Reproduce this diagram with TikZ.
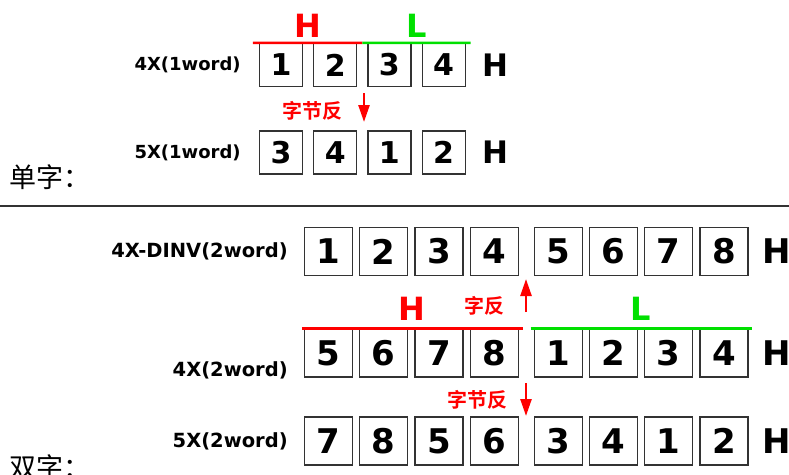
\documentclass[tikz,border=0pt]{standalone}
\usepackage{fontspec}
\setmainfont{DejaVu Sans}
\newfontfamily\cjk{Noto Sans CJK SC}[BoldFont={Noto Sans CJK SC Bold}]
\usepackage{xcolor}
\definecolor{hired}{HTML}{FF0000}
\definecolor{logreen}{HTML}{00E000}
\definecolor{boxgray}{HTML}{333333}
\usepackage{tikz}
\usetikzlibrary{arrows.meta, positioning, calc}
\tikzstyle{bytebox} = [
  rectangle, draw=boxgray, line width=1.2pt,
  minimum width=43pt, minimum height=43pt, inner sep=0pt,
  font=\fontsize{30}{30}\selectfont\bfseries
]
\tikzstyle{wordbox} = [
  bytebox, minimum width=48pt, minimum height=48pt,
  font=\fontsize{34}{34}\selectfont\bfseries
]
\tikzstyle{rowlabel} = [inner sep=0pt, font=\fontsize{18}{18}\selectfont\bfseries]
\tikzstyle{widelabel} = [inner sep=0pt, font=\fontsize{19.5}{19.5}\selectfont\bfseries]
\tikzstyle{endian} = [inner sep=0pt, font=\fontsize{31}{31}\selectfont\bfseries]
\tikzstyle{halfmark} = [inner sep=0pt, font=\fontsize{32}{32}\selectfont\bfseries]
\tikzstyle{hiline} = [line width=2.5pt, color=hired]
\tikzstyle{loline} = [line width=2.5pt, color=logreen]
\tikzstyle{revarrow} = [
  -{Triangle[width=11pt,length=17pt]}, line width=2.5pt, color=hired
]
\tikzstyle{revlabel} = [
  inner sep=0pt, text=hired, font=\fontsize{20}{20}\selectfont\cjk\bfseries
]
\tikzstyle{section} = [inner sep=0pt, font=\fontsize{27}{27}\selectfont\cjk]

\begin{document}
\begin{tikzpicture}[x=1pt, y=-1pt]
  \useasboundingbox (0,0) rectangle (789,474);

  % ── 4X(1word) ─────────────────────────────────────────
  \node[bytebox] (sa1) at (281,65) {1};
  \node[bytebox, right=10pt of sa1] (sa2) {2};
  \node[bytebox, right=10pt of sa2] (sa3) {3};
  \node[bytebox, right=10pt of sa3] (sa4) {4};
  \node[rowlabel, left=18pt of sa1] (salbl) {4X(1word)};
  \node[endian, right=17pt of sa4] (sah) {H};

  % ── 5X(1word) ─────────────────────────────────────────
  \node[bytebox] (sb1) at (281,152.5) {3};
  \node[bytebox, right=10pt of sb1] (sb2) {4};
  \node[bytebox, right=10pt of sb2] (sb3) {1};
  \node[bytebox, right=10pt of sb3] (sb4) {2};
  \node[rowlabel, left=18pt of sb1] (sblbl) {5X(1word)};
  \node[endian, right=17pt of sb4] (sbh) {H};

  \node[section, anchor=west] (single) at (9,177) {单字：};

  % ── H / L halves ──────────────────────────────────────
  \coordinate (samid) at ($(sa2.north east)!0.5!(sa3.north west)$);
  \draw[hiline] ([xshift=-6pt]sa1.north west)
    -- node[halfmark, above=4pt, text=hired]{H} (samid);
  \draw[loline] (samid)
    -- node[halfmark, above=4pt, text=logreen]{L} ([xshift=5pt]sa4.north east);

  % ── byte swap ─────────────────────────────────────────
  \coordinate (swapa) at (364,93);
  \coordinate (swapb) at (364,122);
  \draw[revarrow] (swapa) -- node[revlabel, pos=0.6, left=20pt]{字节反} (swapb);

  % ── divider ───────────────────────────────────────────
  \draw[line width=1.5pt, color=boxgray] (0,206) -- (789,206);

  % ── 4X-DINV(2word) ────────────────────────────────────
  \node[wordbox] (da1) at (328.5,251.5) {1};
  \node[wordbox, right=6pt of da1] (da2) {2};
  \node[wordbox, right=6pt of da2] (da3) {3};
  \node[wordbox, right=6pt of da3] (da4) {4};
  \node[wordbox, right=15pt of da4] (da5) {5};
  \node[wordbox, right=6pt of da5] (da6) {6};
  \node[wordbox, right=6pt of da6] (da7) {7};
  \node[wordbox, right=6pt of da7] (da8) {8};
  \node[widelabel, left=16pt of da1] (dalbl) {4X-DINV(2word)};
  \node[endian, font=\fontsize{34}{34}\selectfont\bfseries, right=14pt of da8] (dah) {H};

  % ── 4X(2word) ─────────────────────────────────────────
  \node[wordbox] (db1) at (328.5,353) {5};
  \node[wordbox, right=6pt of db1] (db2) {6};
  \node[wordbox, right=6pt of db2] (db3) {7};
  \node[wordbox, right=6pt of db3] (db4) {8};
  \node[wordbox, right=15pt of db4] (db5) {1};
  \node[wordbox, right=6pt of db5] (db6) {2};
  \node[wordbox, right=6pt of db6] (db7) {3};
  \node[wordbox, right=6pt of db7] (db8) {4};
  \node[widelabel, left=16pt of db1, yshift=-17pt] (dblbl) {4X(2word)};
  \node[endian, font=\fontsize{34}{34}\selectfont\bfseries, right=14pt of db8] (dbh) {H};

  % ── 5X(2word) ─────────────────────────────────────────
  \node[wordbox] (dc1) at (328.5,441) {7};
  \node[wordbox, right=6pt of dc1] (dc2) {8};
  \node[wordbox, right=6pt of dc2] (dc3) {5};
  \node[wordbox, right=6pt of dc3] (dc4) {6};
  \node[wordbox, right=15pt of dc4] (dc5) {3};
  \node[wordbox, right=6pt of dc5] (dc6) {4};
  \node[wordbox, right=6pt of dc6] (dc7) {1};
  \node[wordbox, right=6pt of dc7] (dc8) {2};
  \node[widelabel, left=16pt of dc1] (dclbl) {5X(2word)};
  \node[endian, font=\fontsize{34}{34}\selectfont\bfseries, right=14pt of dc8] (dch) {H};

  \node[section, anchor=west] (double) at (9,467) {双字：};

  % ── H / L halves (2word) ──────────────────────────────
  \draw[hiline] ([xshift=-2pt]db1.north west)
    -- node[halfmark, above=7pt, text=hired]{H} ([xshift=4pt]db4.north east);
  \draw[loline] ([xshift=-3pt]db5.north west)
    -- node[halfmark, above=7pt, text=logreen]{L} ([xshift=3pt]db8.north east);

  % ── word swap / byte swap ─────────────────────────────
  \coordinate (wswapa) at (526,312);
  \coordinate (wswapb) at (526,279);
  \draw[revarrow] (wswapa) -- node[revlabel, pos=0.2, left=20pt]{字反} (wswapb);
  \coordinate (bswapa) at (526,383);
  \coordinate (bswapb) at (526,416);
  \draw[revarrow] (bswapa) -- node[revlabel, left=17pt]{字节反} (bswapb);

\end{tikzpicture}
\end{document}
